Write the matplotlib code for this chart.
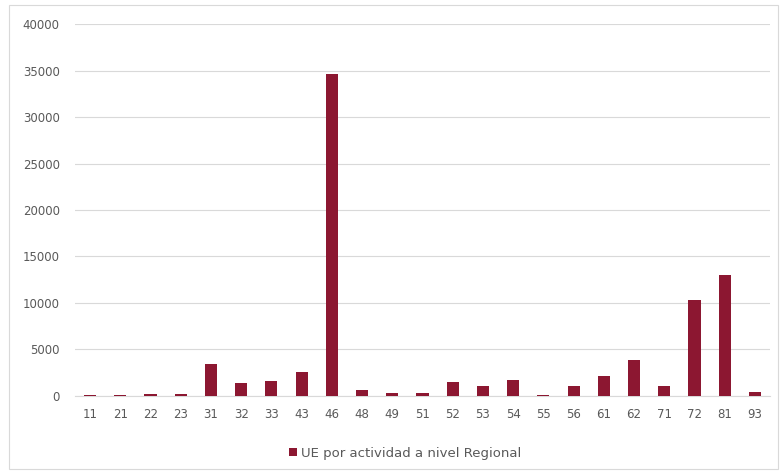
import matplotlib.pyplot as plt
import matplotlib.patches as mpatches
import numpy as np

# categorias de actividad y numero de UE
actividades = ["11", "21", "22", "23", "31", "32", "33", "43", "46", "48", "49",
               "51", "52", "53", "54", "55", "56", "61", "62", "71", "72", "81", "93"]
ue = [60, 60, 200, 200, 3380, 1400, 1610, 2520, 34600, 610, 250,
      250, 1470, 1040, 1650, 60, 1040, 2120, 3840, 1040, 10300, 13000, 380]
yticks = [0, 5000, 10000, 15000, 20000, 25000, 30000, 35000, 40000]

color_bar = "#8c1731"
gris = "#595959"

fig = plt.figure(figsize=(7.81, 4.74), dpi=100)
ax = fig.add_axes([0.096, 0.165, 0.890, 0.784])

x = np.arange(len(actividades))
ax.bar(x, ue, width=0.4, color=color_bar, zorder=3,
       label="UE por actividad a nivel Regional")

ax.set_ylim(0, 40000)
ax.set_xlim(-0.5, len(actividades) - 0.5)
ax.set_yticks(yticks)
ax.set_yticklabels([str(t) for t in yticks], fontsize=8.5, color=gris)
ax.set_xticks(x)
ax.set_xticklabels(actividades, fontsize=8.5, color=gris)
ax.tick_params(axis="y", length=0, pad=11)
ax.tick_params(axis="x", length=0, pad=9)
ax.grid(axis="y", color="#d9d9d9", linewidth=0.8, zorder=0)
for s in ["top", "right", "left"]:
    ax.spines[s].set_visible(False)
ax.spines["bottom"].set_color("#d9d9d9")

ax.legend(loc="upper center", bbox_to_anchor=(0.475, -0.105), frameon=False,
          fontsize=9.5, labelcolor=gris, handlelength=0.6, handleheight=0.6,
          handletextpad=0.3)

# borde del grafico
fig.patches.append(mpatches.Rectangle((0.011, 0.01), 0.985, 0.98, transform=fig.transFigure,
                                      fill=False, edgecolor="#d9d9d9", linewidth=0.8))

fig.savefig("out.png", dpi=100)
